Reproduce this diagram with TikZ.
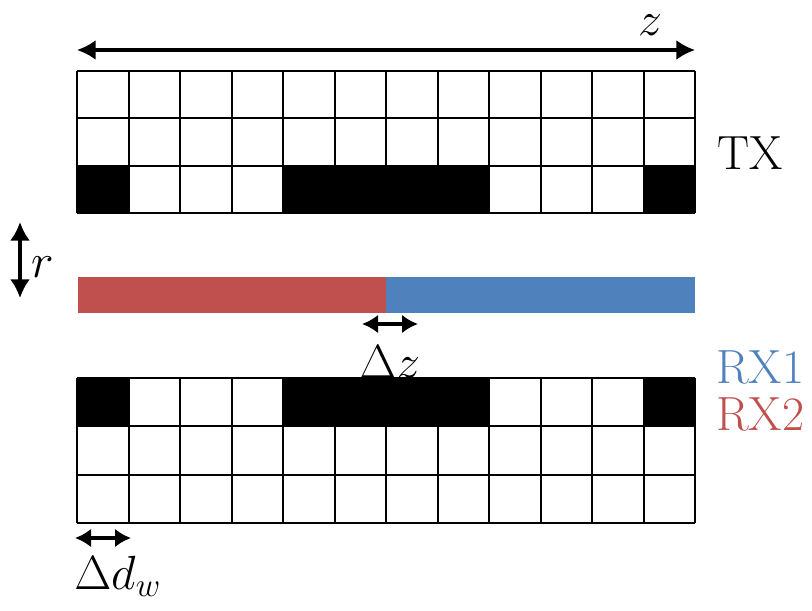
\RequirePackage{fix-cm}
\documentclass[tikz,border=0pt]{standalone}
\usetikzlibrary{arrows.meta}

\definecolor{rxblue}{RGB}{79,129,189}
\definecolor{rxred}{RGB}{192,80,77}

\tikzset{
  cell/.style={draw, line width=1.5pt},
  dimarrow/.style={{Latex[length=14pt,width=15pt]}-{Latex[length=14pt,width=15pt]}, line width=2.5pt},
  smallarrow/.style={{Latex[length=12pt,width=14pt]}-{Latex[length=12pt,width=14pt]}, line width=2.4pt},
  lbl/.style={inner sep=0pt, font=\fontsize{36}{40}\selectfont},
}

\begin{document}
\begin{tikzpicture}[x=0.75pt,y=-0.75pt]
\useasboundingbox (0,0) rectangle (812,610);

% TX array
\foreach \c in {0,4,5,6,7,11}
  \fill (77+\c*51.5,166) rectangle ++(51.5,47);
\foreach \c in {0,...,12}
  \draw[cell] (77+\c*51.5,71) -- (77+\c*51.5,213);
\foreach \r in {0,...,3}
  \draw[cell] (77,71+\r*47.33) -- (695,71+\r*47.33);

% RX strip
\fill[rxred] (78,277) rectangle (386,313);
\fill[rxblue] (386,277) rectangle (695,313);

% RX array
\foreach \c in {0,4,5,6,7,11}
  \fill (77+\c*51.5,378) rectangle ++(51.5,49);
\foreach \c in {0,...,12}
  \draw[cell] (77+\c*51.5,378) -- (77+\c*51.5,523);
\foreach \r in {0,...,3}
  \draw[cell] (77,378+\r*48.33) -- (695,378+\r*48.33);

% dimensions
\coordinate (zleft) at (77,50);
\coordinate (zright) at (695,50);
\draw[dimarrow] (zleft) -- (zright);
\node[lbl] (zlabel) at (650,25) {$z$};

\coordinate (rtop) at (20,222);
\coordinate (rbot) at (20,298);
\draw[dimarrow] (rtop) -- (rbot);
\node[lbl] (rlabel) at (43,267) {$r$};

\coordinate (dzleft) at (362,324);
\coordinate (dzright) at (418,324);
\draw[smallarrow] (dzleft) -- (dzright);
\node[lbl] (dzlabel) at (390,362) {$\Delta z$};

\coordinate (dwleft) at (75,538);
\coordinate (dwright) at (131,538);
\draw[smallarrow] (dwleft) -- (dwright);
\node[lbl, anchor=west] (dwlabel) at (74,576) {$\Delta d_w$};

% labels
\node[lbl] (tx) at (750,153) {TX};
\node[lbl, text=rxblue, anchor=west] (rxone) at (716,367) {RX1};
\node[lbl, text=rxred, anchor=west] (rxtwo) at (716,414) {RX2};
\end{tikzpicture}
\end{document}
